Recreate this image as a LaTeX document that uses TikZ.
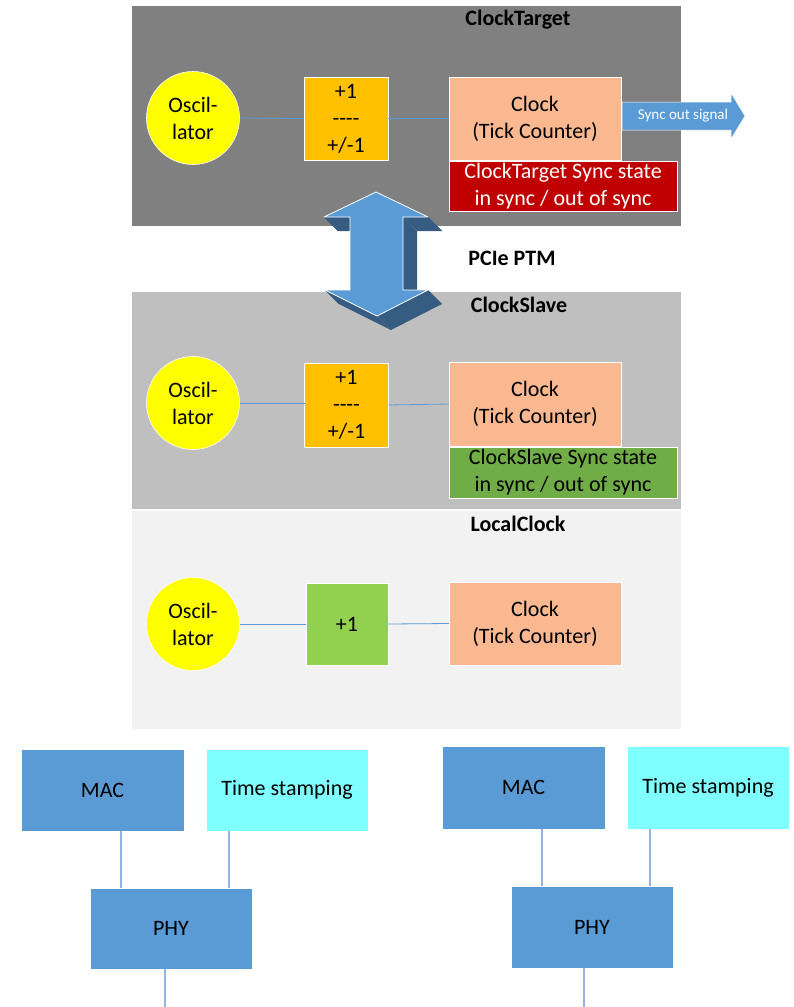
\documentclass[tikz,border=0pt]{standalone}
\usepackage{fontspec}
\setmainfont{Carlito}
\usetikzlibrary{calc}

\definecolor{paneldark}{RGB}{128,128,128}
\definecolor{panelmid}{RGB}{191,191,191}
\definecolor{panellight}{RGB}{242,242,242}
\definecolor{oscyellow}{RGB}{255,255,0}
\definecolor{adjorange}{RGB}{255,192,0}
\definecolor{clkpeach}{RGB}{250,184,144}
\definecolor{syncred}{RGB}{192,0,0}
\definecolor{syncgreen}{RGB}{112,173,71}
\definecolor{incgreen}{RGB}{146,208,80}
\definecolor{officeblue}{RGB}{91,155,213}
\definecolor{sideblue}{RGB}{54,92,130}
\definecolor{stampcyan}{RGB}{127,255,255}
\definecolor{tieblue}{RGB}{150,180,225}

% four separate hyphens, kept apart so no dash ligature forms
\newcommand{\hyphenrule}{-{}-{}-{}-}

\tikzset{
  every node/.style={inner sep=0pt, outer sep=0pt, align=center,
    font=\fontsize{22}{27}\selectfont},
  panel/.style={rectangle, draw=white, line width=0.6pt, minimum width=550pt},
  title/.style={font=\fontsize{22}{27}\selectfont\bfseries},
  osc/.style={circle, fill=oscyellow, draw=white, line width=0.6pt, minimum size=93pt},
  blockbox/.style={rectangle, draw=white, line width=0.6pt},
  adj/.style={blockbox, fill=adjorange, minimum width=84pt, minimum height=83pt},
  clk/.style={blockbox, fill=clkpeach, minimum width=172pt, minimum height=83pt},
  syncstate/.style={blockbox, minimum width=228pt, minimum height=50pt},
  link/.style={draw=officeblue, line width=0.8pt},
  netbox/.style={blockbox, minimum width=162pt, minimum height=82pt},
  tie/.style={draw=tieblue, line width=1.4pt},
}

\begin{document}
\begin{tikzpicture}[x=1pt,y=-1pt]
\useasboundingbox (0,0) rectangle (794,1007);
\fill[white] (0,0) rectangle (794,1007);

% ---- three clock panels ----
\node[panel, fill=paneldark,  minimum height=221pt] (pTarget) at (406,115.5) {};
\node[panel, fill=panelmid,   minimum height=218pt] (pSlave)  at (406,400) {};
\node[panel, fill=panellight, minimum height=219pt] (pLocal)  at (406,619.5) {};

\node[title] (tTarget) at (518,20)  {ClockTarget};
\node[title] (tSlave)  at (519,305) {ClockSlave};
\node[title] (tLocal)  at (518,524) {LocalClock};
\node[title] (tPtm)    at (512,258) {PCIe PTM};

% ---- ClockTarget ----
\node[osc] (osc1) at (193,118) {Oscil-\\lator};
\node[adj] (adj1) at (346,118.5) {+1\\\hyphenrule\\+/-1};
\node[clk] (clk1) at (535,118.5) {Clock\\(Tick Counter)};
\node[syncstate, fill=syncred, text=white] (sync1) at (563,186)
  {ClockTarget Sync state\\in sync / out of sync};
\draw[link] (osc1.east) -- (adj1.west);
\draw[link] (adj1.east) -- (clk1.west);

% sync output arrow
\fill[officeblue, draw=white, line width=0.5pt]
  (622,102) -- (731,102) -- (731,93) -- (745,116) -- (731,139) -- (731,130) -- (622,130) -- cycle;
\node[text=white, font=\fontsize{15}{18}\selectfont] (syncout) at (683,116) {Sync out signal};

% ---- ClockSlave ----
\node[osc] (osc2) at (193,403) {Oscil-\\lator};
\node[adj, minimum height=84pt] (adj2) at (346.5,405) {+1\\\hyphenrule\\+/-1};
\node[clk, minimum height=84pt] (clk2) at (535,404) {Clock\\(Tick Counter)};
\node[syncstate, fill=syncgreen, minimum height=51pt] (sync2) at (563,472.5)
  {ClockSlave Sync state\\in sync / out of sync};
\draw[link] (osc2.east) -- (osc2.east -| adj2.west);
\draw[link] (adj2.east) -- (clk2.west);

% ---- LocalClock ----
\node[osc] (osc3) at (193,624) {Oscil-\\lator};
\node[blockbox, fill=incgreen, minimum width=82pt, minimum height=82pt] (inc3) at (347,624) {+1};
\node[clk] (clk3) at (535,623.5) {Clock\\(Tick Counter)};
\draw[link] (osc3.east) -- (inc3.west);
\draw[link] (inc3.east) -- (clk3.west);

% ---- PCIe PTM double arrow (extruded) ----
\coordinate (a1) at (376,192);
\coordinate (a2) at (428,217);
\coordinate (a3) at (403,217);
\coordinate (a4) at (403,290);
\coordinate (a5) at (428,290);
\coordinate (a6) at (377,316);
\coordinate (a7) at (325,290);
\coordinate (a8) at (350,290);
\coordinate (a9) at (350,217);
\coordinate (a10) at (324,217);
\foreach \p/\q in {a1/a2,a2/a3,a3/a4,a4/a5,a5/a6,a6/a7,a7/a8,a8/a9,a9/a10,a10/a1}{
  \fill[sideblue] (\p) -- (\q) -- ([shift={(14,14)}]\q) -- ([shift={(14,14)}]\p) -- cycle;
}
\fill[officeblue, draw=white, line width=0.8pt, line join=round]
  (a1) -- (a2) -- (a3) -- (a4) -- (a5) -- (a6) -- (a7) -- (a8) -- (a9) -- (a10) -- cycle;

% ---- left network port ----
\node[netbox, fill=officeblue, minimum width=163pt] (macL) at (102.5,790) {MAC};
\node[netbox, fill=stampcyan] (tsL) at (287,790) {Time stamping};
\node[netbox, fill=officeblue, minimum height=81pt] (phyL) at (171,928.5) {PHY};
\coordinate (endL) at (165,1007);
\draw[tie] ($(macL.south west)!0.613!(macL.south east)$) coordinate (m1) -- (m1 |- phyL.north);
\draw[tie] ($(tsL.south west)!0.142!(tsL.south east)$) coordinate (s1) -- (s1 |- phyL.north);
\draw[tie] (phyL.south -| endL) -- (endL);

% ---- right network port ----
\node[netbox, fill=officeblue, minimum width=163pt, minimum height=83pt] (macR) at (523.5,787.5) {MAC};
\node[netbox, fill=stampcyan, minimum height=83pt] (tsR) at (708,787.5) {Time stamping};
\node[netbox, fill=officeblue] (phyR) at (592,927) {PHY};
\coordinate (endR) at (584,1007);
\draw[tie] ($(macR.south west)!0.613!(macR.south east)$) coordinate (m2) -- (m2 |- phyR.north);
\draw[tie] ($(tsR.south west)!0.142!(tsR.south east)$) coordinate (s2) -- (s2 |- phyR.north);
\draw[tie] (phyR.south -| endR) -- (endR);
\end{tikzpicture}
\end{document}
